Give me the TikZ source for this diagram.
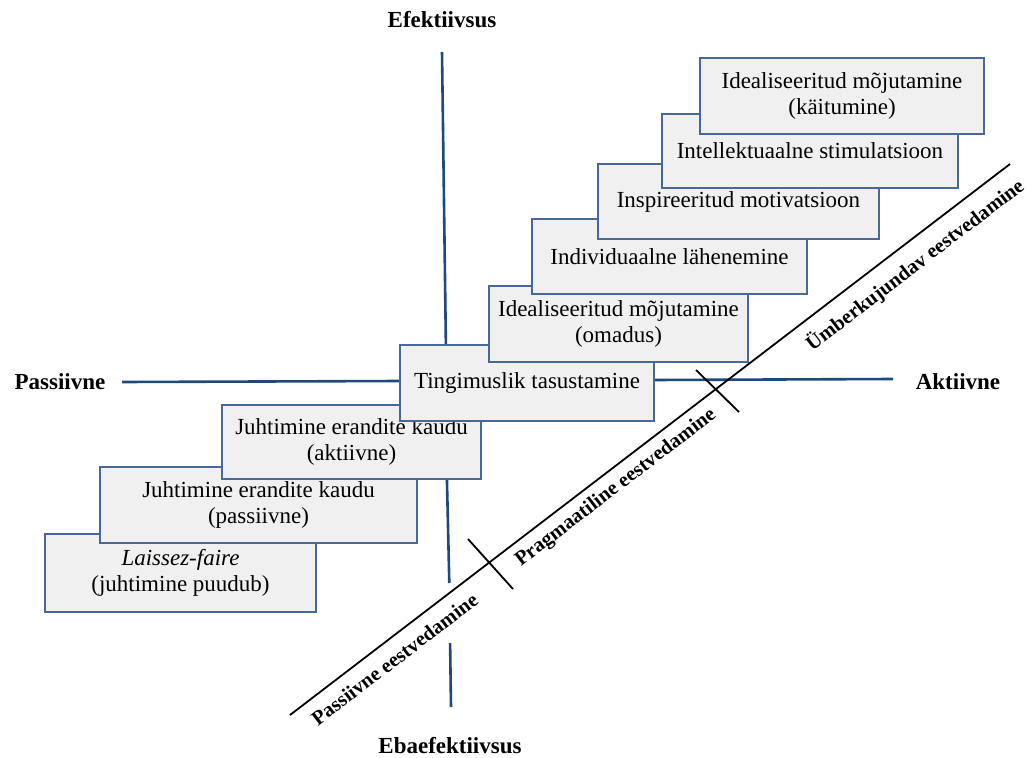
\documentclass[tikz,border=0pt]{standalone}
\usepackage{fontspec}
\setmainfont{Liberation Serif}
\definecolor{axisblue}{RGB}{31,73,125}
\definecolor{boxblue}{RGB}{72,104,152}
\definecolor{boxgray}{RGB}{240,240,240}
\tikzset{
  stylebox/.style={draw=boxblue, fill=boxgray, line width=1.4pt, rectangle, inner sep=0pt,
    align=center, font=\fontsize{23}{26}\selectfont},
  axislabel/.style={font=\fontsize{23}{26}\selectfont\bfseries, inner sep=0pt},
  axisline/.style={draw=axisblue, line width=2.6pt},
  diagline/.style={draw=black, line width=1.8pt},
  diaglabel/.style={font=\fontsize{20.5}{24}\selectfont\bfseries, inner sep=0pt, rotate=37.4}
}
\begin{document}
\begin{tikzpicture}[x=1pt,y=-1pt]
\useasboundingbox (0,0) rectangle (1027,757);
% axis labels
\node[axislabel] (ef) at (442,20) {Efektiivsus};
\node[axislabel] (ebaef) at (450,746) {Ebaefektiivsus};
\node[axislabel] (pass) at (60,382) {Passiivne};
\node[axislabel] (akt) at (958,382) {Aktiivne};
% axes
\coordinate (V1) at (442,52);
\coordinate (Vf) at (445.9,346);
\coordinate (Vg) at (446.9,478);
\coordinate (V2) at (449.3,583);
\coordinate (V3) at (450.1,643);
\coordinate (V4) at (451,707);
\coordinate (H1) at (122,382);
\coordinate (Hf) at (400,381);
\coordinate (Hg) at (654,380);
\coordinate (H2) at (893,379);
\draw[axisline] (V1) -- (Vf);
\draw[axisline] (Vg) -- (V2);
\draw[axisline] (V3) -- (V4);
\draw[axisline] (H1) -- (Hf);
\draw[axisline] (Hg) -- (H2);
% boxes, bottom-left first
\node[stylebox, minimum width=271pt, minimum height=78pt] (I) at (180.5,573) {\textit{Laissez-faire}\\(juhtimine puudub)};
\node[stylebox, minimum width=317pt, minimum height=76pt] (H) at (258.5,505) {Juhtimine erandite kaudu\\(passiivne)};
\node[stylebox, minimum width=259pt, minimum height=74pt] (G) at (351.5,442) {Juhtimine erandite kaudu\\(aktiivne)};
\node[stylebox, minimum width=254pt, minimum height=76pt] (F) at (527,383) {Tingimuslik tasustamine};
\node[stylebox, minimum width=259pt, minimum height=76pt] (E) at (618.5,324) {Idealiseeritud mõjutamine\\(omadus)};
\node[stylebox, minimum width=275pt, minimum height=75pt] (D) at (669.5,256.5) {Individuaalne lähenemine};
\node[stylebox, minimum width=281pt, minimum height=75pt] (C) at (738.5,201.5) {Inspireeritud motivatsioon};
\node[stylebox, minimum width=296pt, minimum height=74pt] (B) at (810,151) {Intellektuaalne stimulatsioon};
\node[stylebox, minimum width=284pt, minimum height=76pt] (A) at (842,96) {Idealiseeritud mõjutamine\\(käitumine)};
% diagonal
\coordinate (L1) at (290,715);
\coordinate (L2) at (1010,164);
\draw[diagline] (L1) -- (L2);
\coordinate (T1a) at (468,539);
\coordinate (T1b) at (513,589);
\coordinate (T2a) at (696,370);
\coordinate (T2b) at (739,412);
\draw[diagline] (T1a) -- (T1b);
\draw[diagline] (T2a) -- (T2b);
\node[diaglabel] (pe) at (394.5,659) {Passiivne eestvedamine};
\node[diaglabel] (pr) at (616,488) {Pragmaatiline eestvedamine};
\node[diaglabel] (ue) at (915,265) {Ümberkujundav eestvedamine};
\end{tikzpicture}
\end{document}
